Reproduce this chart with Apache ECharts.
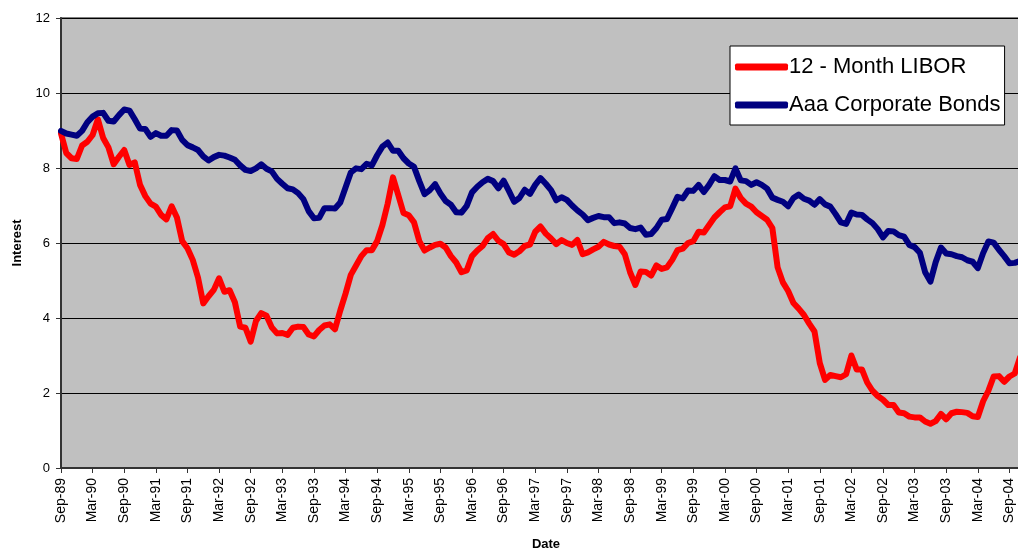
<!DOCTYPE html>
<html lang="en">
<head>
  <meta charset="UTF-8">
  <title>LIBOR vs Aaa</title>
  <script src="https://cdn.jsdelivr.net/npm/echarts@6/dist/echarts.min.js"></script>
  <style>
    html, body { margin: 0; padding: 0; background: #fff; }
  </style>
</head>
<body>
<div id="main" style="width: 1018px;height:548px;"></div>
<script type="text/javascript">

// monthly data, Sep-89 .. Nov-04
var startYear = 1989, startMonth = 8; // Sep
var monthNames = ['Jan','Feb','Mar','Apr','May','Jun','Jul','Aug','Sep','Oct','Nov','Dec'];

var libor = [
  8.92, 8.40, 8.26, 8.24,
  8.60, 8.70, 8.88, 9.30, 8.80, 8.55, 8.10, 8.30, 8.48, 8.08, 8.15, 7.55,
  7.25, 7.05, 6.97, 6.75, 6.63, 6.98, 6.68, 6.05, 5.86, 5.55, 5.08, 4.39,
  4.58, 4.75, 5.06, 4.70, 4.74, 4.42, 3.77, 3.74, 3.37, 3.92, 4.13, 4.06,
  3.75, 3.59, 3.60, 3.55, 3.74, 3.77, 3.76, 3.56, 3.51, 3.68, 3.80, 3.83,
  3.70, 4.20, 4.65, 5.15, 5.40, 5.65, 5.81, 5.81, 6.05, 6.48, 7.05, 7.75,
  7.28, 6.80, 6.74, 6.55, 6.05, 5.80, 5.88, 5.95, 5.98, 5.88, 5.65, 5.48,
  5.22, 5.27, 5.65, 5.80, 5.92, 6.13, 6.24, 6.06, 5.97, 5.75, 5.69, 5.78,
  5.92, 5.96, 6.30, 6.44, 6.25, 6.12, 5.97, 6.08, 6.00, 5.95, 6.08, 5.70,
  5.75, 5.83, 5.90, 6.03, 5.96, 5.92, 5.90, 5.70, 5.22, 4.88, 5.24, 5.23,
  5.13, 5.40, 5.31, 5.35, 5.55, 5.81, 5.85, 6.00, 6.05, 6.30, 6.28, 6.48,
  6.68, 6.82, 6.95, 6.98, 7.45, 7.20, 7.05, 6.97, 6.82, 6.72, 6.62, 6.40,
  5.35, 4.95, 4.72, 4.40, 4.25, 4.08, 3.85, 3.64, 2.80, 2.35, 2.48, 2.45,
  2.42, 2.50, 3.00, 2.63, 2.63, 2.28, 2.06, 1.92, 1.82, 1.68, 1.68, 1.48,
  1.46, 1.37, 1.35, 1.35, 1.24, 1.18, 1.25, 1.44, 1.30, 1.46, 1.50, 1.49,
  1.47, 1.38, 1.36, 1.78, 2.06, 2.44, 2.45, 2.30, 2.44, 2.52, 2.95
];

var aaa = [
  8.99, 8.92, 8.89, 8.86,
  8.99, 9.22, 9.37, 9.46, 9.47, 9.26, 9.24, 9.41, 9.56, 9.53, 9.30, 9.05,
  9.04, 8.83, 8.93, 8.86, 8.86, 9.01, 9.00, 8.75, 8.61, 8.55, 8.48, 8.31,
  8.20, 8.29, 8.35, 8.33, 8.28, 8.22, 8.07, 7.95, 7.92, 7.99, 8.10, 7.98,
  7.91, 7.71, 7.58, 7.46, 7.43, 7.33, 7.17, 6.85, 6.66, 6.67, 6.93, 6.93,
  6.92, 7.08, 7.48, 7.88, 7.99, 7.97, 8.11, 8.07, 8.34, 8.57, 8.68, 8.46,
  8.46, 8.26, 8.12, 8.03, 7.65, 7.30, 7.41, 7.57, 7.32, 7.12, 7.02, 6.82,
  6.81, 6.99, 7.35, 7.50, 7.62, 7.71, 7.65, 7.46, 7.66, 7.39, 7.10, 7.20,
  7.42, 7.31, 7.55, 7.73, 7.58, 7.41, 7.14, 7.22, 7.15, 7.00, 6.87, 6.76,
  6.61, 6.67, 6.72, 6.69, 6.69, 6.53, 6.55, 6.52, 6.40, 6.37, 6.41, 6.22,
  6.24, 6.40, 6.62, 6.64, 6.93, 7.23, 7.19, 7.40, 7.39, 7.55, 7.36, 7.55,
  7.78, 7.68, 7.68, 7.64, 7.99, 7.67, 7.65, 7.55, 7.62, 7.55, 7.45, 7.21,
  7.15, 7.10, 6.98, 7.20, 7.29, 7.18, 7.13, 7.02, 7.17, 7.03, 6.97, 6.77,
  6.55, 6.51, 6.81, 6.76, 6.75, 6.63, 6.53, 6.37, 6.15, 6.32, 6.31, 6.21,
  6.17, 5.95, 5.89, 5.74, 5.22, 4.97, 5.49, 5.88, 5.72, 5.70, 5.65, 5.62,
  5.54, 5.50, 5.33, 5.73, 6.04, 6.01, 5.82, 5.65, 5.46, 5.47, 5.52
];

var yTicks = [0, 2, 4, 6, 8, 10, 12];

// category labels like "Sep-89"
var dates = [];
for (var i = 0; i < libor.length; i++) {
  var m = (startMonth + i) % 12;
  var y = startYear + Math.floor((startMonth + i) / 12);
  dates.push(monthNames[m] + '-' + String(y % 100).padStart(2, '0'));
}

var font = 'Arial, "Liberation Sans", sans-serif';
var myChart = echarts.init(document.getElementById('main'));

var option = {
  animation: false,
  textStyle: { fontFamily: font },
  grid: {
    left: 61, top: 18, right: -2, bottom: 80,
    outerBoundsMode: 'none',
    containLabel: false,
    show: true,
    backgroundColor: '#c0c0c0',
    borderColor: '#808080',
    borderWidth: 2
  },
  legend: {
    orient: 'vertical',
    left: 730, top: 46,
    padding: [10, 4, 9, 5],
    itemGap: 16,
    itemWidth: 53,
    itemHeight: 7,
    icon: 'roundRect',
    backgroundColor: '#ffffff',
    borderColor: '#000000',
    borderWidth: 1,
    borderRadius: 0,
    textStyle: { fontSize: 22, color: '#000', fontFamily: font, padding: [0, 0, 0, -4] },
    data: ['12 - Month LIBOR', 'Aaa Corporate Bonds']
  },
  xAxis: {
    type: 'category',
    data: dates,
    boundaryGap: false,
    name: 'Date',
    nameLocation: 'middle',
    nameGap: 70,
    nameTextStyle: { fontWeight: 'bold', fontSize: 13, color: '#000', padding: [0, 0, 0, 11] },
    axisLine: { lineStyle: { color: '#333', width: 2 } },
    axisTick: { interval: 5, length: 5, lineStyle: { color: '#333' } },
    axisLabel: { interval: 5, rotate: 90, fontSize: 14, color: '#000', margin: 10 },
    splitLine: { show: false }
  },
  yAxis: {
    type: 'value',
    min: yTicks[0],
    max: yTicks[yTicks.length - 1],
    interval: 2,
    name: 'Interest',
    nameLocation: 'middle',
    nameGap: 37,
    nameTextStyle: { fontWeight: 'bold', fontSize: 13, color: '#000' },
    axisLine: { show: true, lineStyle: { color: '#333', width: 2 } },
    axisTick: { show: true, length: 5, lineStyle: { color: '#333' } },
    axisLabel: { fontSize: 13, color: '#000', margin: 11 },
    splitLine: { lineStyle: { color: '#000', width: 1 } }
  },
  series: [
    {
      name: '12 - Month LIBOR',
      type: 'line',
      data: libor,
      symbol: 'none',
      color: '#ff0000',
      lineStyle: { color: '#ff0000', width: 6, join: 'round', cap: 'round' }
    },
    {
      name: 'Aaa Corporate Bonds',
      type: 'line',
      data: aaa,
      symbol: 'none',
      color: '#000080',
      lineStyle: { color: '#000080', width: 6, join: 'round', cap: 'round' }
    }
  ]
};

myChart.setOption(option);

</script>
</body>
</html>
